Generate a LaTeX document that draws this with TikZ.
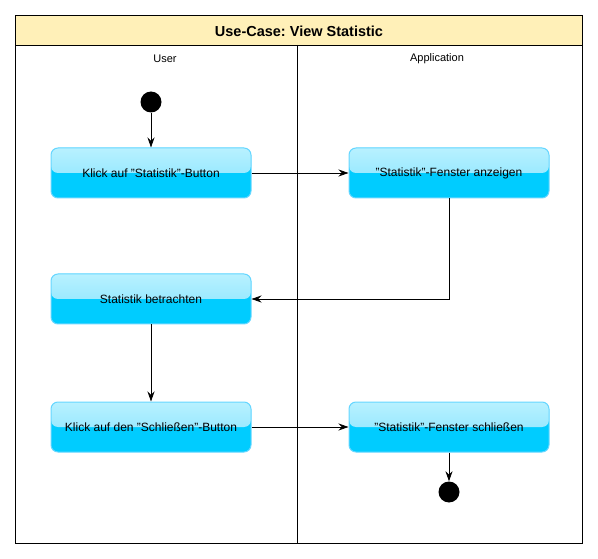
\documentclass[tikz,border=0pt]{standalone}
\usepackage{fontspec}
\setmainfont{Liberation Sans}
\usetikzlibrary{arrows.meta}
\frenchspacing

\definecolor{titlefill}{HTML}{FFF0B8}
\definecolor{boxfill}{HTML}{00CCFF}
\definecolor{boxtop}{HTML}{B8F1FF}
\definecolor{boxmid}{HTML}{7FE2FF}
\definecolor{boxline}{HTML}{66D6FF}

\tikzset{
  action/.style={draw=boxline,line width=1pt,rounded corners=7pt,fill=boxfill,
    minimum width=200pt,minimum height=50pt,inner sep=0pt,
    font=\fontsize{12}{14}\selectfont,
    path picture={\shade[top color=boxtop,bottom color=boxmid]
      (path picture bounding box.north west) rectangle (path picture bounding box.east);}},
  lane/.style={font=\fontsize{11}{13}\selectfont},
  state/.style={circle,fill=black,minimum size=21pt,inner sep=0pt},
  flow/.style={-{Stealth[length=10pt,width=7pt]},thick}
}

\begin{document}
\begin{tikzpicture}[x=1pt,y=-1pt]

\useasboundingbox (0,0) rectangle (598,559);

% swimlanes
\fill [titlefill] (15,15) rectangle (582,45);
\draw [thick] (15,15) rectangle (582,543);
\draw [thick] (15,45) -- (582,45);
\draw [thick] (297,45) -- (297,543);

\node [font=\bfseries\fontsize{14.5}{17}\selectfont] (title) at (299,31) {Use-Case: View Statistic};
\node [lane] (user) at (165,59) {User};
\node [lane] (app) at (437,59) {Application};

% states and actions
\node [state] (start) at (151,102) {};
\node [action] (klick) at (151,173) {Klick auf "Statistik"-Button};
\node [action] (zeigen) at (449,173) {"Statistik"-Fenster anzeigen};
\node [action] (betrachten) at (151,299) {Statistik betrachten};
\node [action] (schliessen) at (151,427) {Klick auf den "Schließen"-Button};
\node [action] (fzu) at (449,427) {"Statistik"-Fenster schließen};
\node [state] (end) at (449,492) {};

% flow
\draw [flow] (start) -- (klick);
\draw [flow] (klick) -- (zeigen);
\draw [flow] (zeigen) |- (betrachten);
\draw [flow] (betrachten) -- (schliessen);
\draw [flow] (schliessen) -- (fzu);
\draw [flow] (fzu) -- (end);

\end{tikzpicture}
\end{document}
